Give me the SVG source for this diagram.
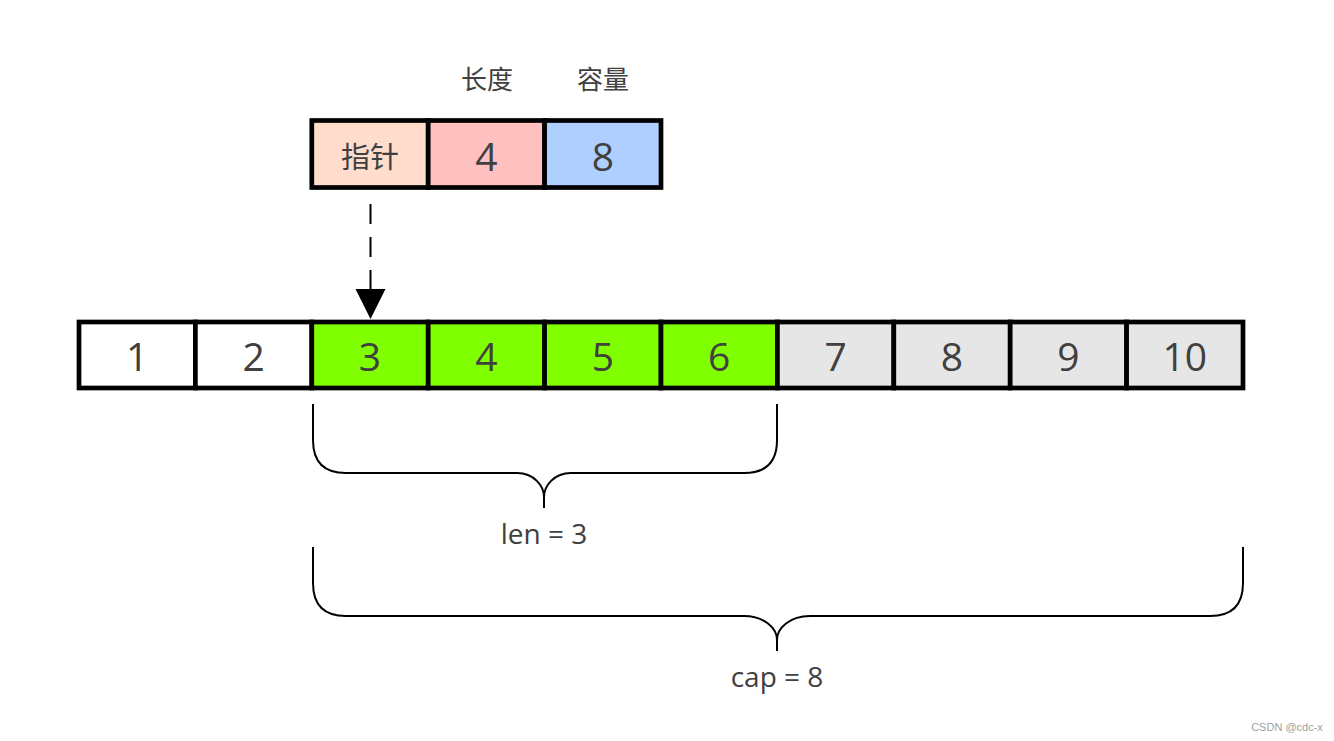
<svg xmlns="http://www.w3.org/2000/svg" width="1334" height="741" viewBox="0 0 1334 741">
<style>
.cell{stroke:#000;stroke-width:4.7;}
.num{font-family:"Open Sans","Noto Sans CJK SC",sans-serif;font-size:39px;fill:#404040;text-anchor:middle;dominant-baseline:central;}
.cjk{font-family:"Noto Sans CJK SC","Open Sans",sans-serif;fill:#404040;text-anchor:middle;dominant-baseline:central;}
.lbl{font-family:"Open Sans","Noto Sans CJK SC",sans-serif;font-size:28px;fill:#404040;text-anchor:middle;}
.brace{fill:none;stroke:#000;stroke-width:2;}
.w{fill:#ffffff}.g{fill:#80ff00}.gr{fill:#e6e6e6}
</style>
<rect width="1334" height="741" fill="#fff"/>

<g id="labels-top">
<text class="cjk" x="487" y="77" font-size="26">长度</text>
<text class="cjk" x="603" y="77" font-size="26">容量</text>
</g>

<g id="header">
<g id="h-ptr"><rect class="cell" x="311.8" y="120.5" width="116.4" height="67" fill="#ffdccc"/><text class="cjk" x="370" y="155" font-size="29">指针</text></g>
<g id="h-len"><rect class="cell" x="428.2" y="120.5" width="116.4" height="67" fill="#ffc0c0"/><text class="num" x="486.4" y="155">4</text></g>
<g id="h-cap"><rect class="cell" x="544.6" y="120.5" width="116.4" height="67" fill="#aecfff"/><text class="num" x="602.8" y="155">8</text></g>
</g>

<g id="array">
<g id="c1"><rect class="cell w" x="79" y="322" width="116.4" height="66"/><text class="num" x="137.2" y="355.5">1</text></g>
<g id="c2"><rect class="cell w" x="195.4" y="322" width="116.4" height="66"/><text class="num" x="253.6" y="355.5">2</text></g>
<g id="c3"><rect class="cell g" x="311.8" y="322" width="116.4" height="66"/><text class="num" x="370" y="355.5">3</text></g>
<g id="c4"><rect class="cell g" x="428.2" y="322" width="116.4" height="66"/><text class="num" x="486.4" y="355.5">4</text></g>
<g id="c5"><rect class="cell g" x="544.6" y="322" width="116.4" height="66"/><text class="num" x="602.8" y="355.5">5</text></g>
<g id="c6"><rect class="cell g" x="661" y="322" width="116.4" height="66"/><text class="num" x="719.2" y="355.5">6</text></g>
<g id="c7"><rect class="cell gr" x="777.4" y="322" width="116.4" height="66"/><text class="num" x="835.6" y="355.5">7</text></g>
<g id="c8"><rect class="cell gr" x="893.8" y="322" width="116.4" height="66"/><text class="num" x="952" y="355.5">8</text></g>
<g id="c9"><rect class="cell gr" x="1010.2" y="322" width="116.4" height="66"/><text class="num" x="1068.4" y="355.5">9</text></g>
<g id="c10"><rect class="cell gr" x="1126.6" y="322" width="116.4" height="66"/><text class="num" x="1184.8" y="355.5">10</text></g>
</g>

<g id="connectors">
<line x1="370.5" y1="204" x2="370.5" y2="290" stroke="#000" stroke-width="2" stroke-dasharray="20,13"/>
<path d="M355.5,289 L385.5,289 L370.5,319 Z" fill="#000"/>
</g>

<g id="brace-len">
<path class="brace" d="M313,404 V440 Q313,473 346,473 H517 C534,473 544,486 544,497 V508 M544,497 C544,486 554,473 571,473 H744 Q777,473 777,440 V404"/>
<text class="lbl" x="544" y="544">len = 3</text>
</g>

<g id="brace-cap">
<path class="brace" d="M313,547 V583 Q313,616 346,616 H744 C764,616 777,628 777,640 V651 M777,640 C777,628 790,616 810,616 H1210 Q1243,616 1243,583 V547"/>
<text class="lbl" x="777" y="687">cap = 8</text>
</g>

<text x="1287" y="731" font-family="Liberation Sans, Arial, sans-serif" font-size="11" fill="#a0a0a0" text-anchor="middle">CSDN @cdc-x</text>
</svg>
